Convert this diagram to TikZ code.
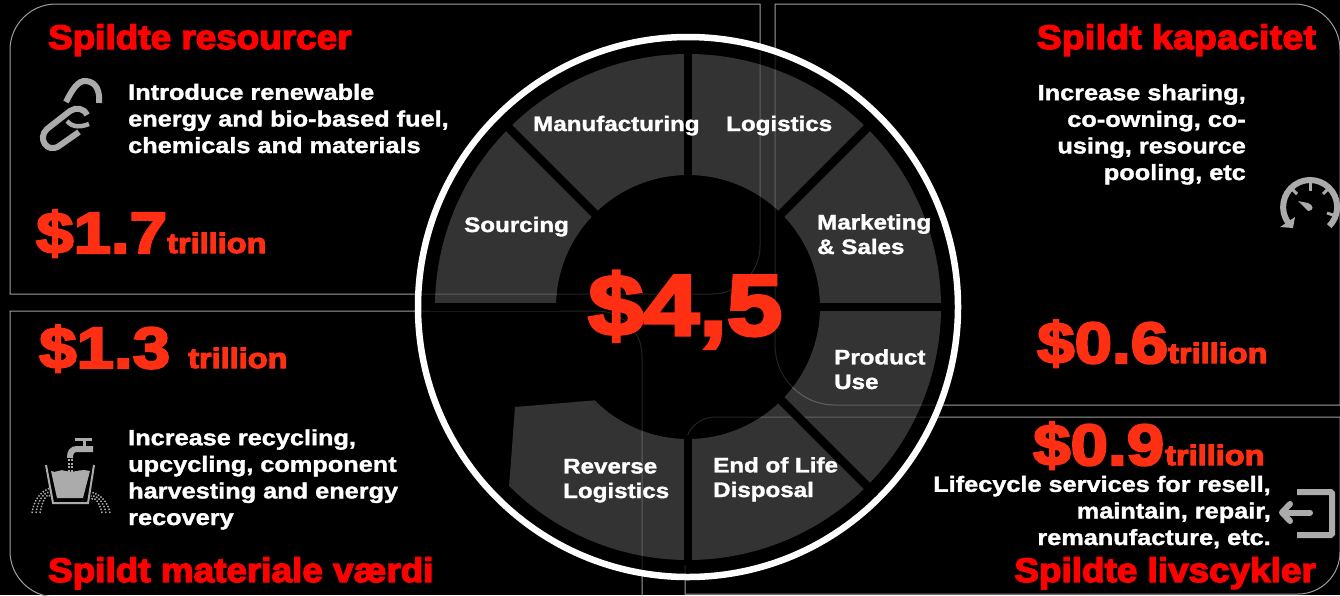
\documentclass[tikz,border=0pt]{standalone}
\usepackage{fontspec}
\newfontfamily\headfont[BoldFont=*,FakeStretch=1.085,FakeBold=4]{Liberation Sans Bold}
\newfontfamily\heavyfont[BoldFont=*,FakeStretch=1.16,FakeBold=4]{Liberation Sans Bold}
\newfontfamily\plainfont[BoldFont=*,FakeStretch=1.15,FakeBold=1.5]{Liberation Sans Bold}
\definecolor{headred}{HTML}{FF0000}
\definecolor{numred}{HTML}{FF2F14}
\definecolor{segfill}{HTML}{333333}
\definecolor{icongray}{HTML}{ABABAB}

% frame lines of the four panels
\newcommand{\panellines}{
    \draw (10,294) -- (10,50) arc[start angle=180, end angle=270, radius=46] -- (760,4) -- (760,246) arc[start angle=0, end angle=90, radius=48] -- cycle;
    \draw (775,4) -- (1294,4) arc[start angle=270, end angle=360, radius=46] -- (1340,405) -- (835,405) arc[start angle=90, end angle=180, radius=60] -- cycle;
    \draw (10,311) -- (597,311) arc[start angle=270, end angle=360, radius=45] -- (642,597) -- (56,597) arc[start angle=90, end angle=180, radius=46] -- cycle;
    \draw (685,594) -- (685,447) arc[start angle=180, end angle=270, radius=30] -- (1340,417) -- (1340,552) arc[start angle=0, end angle=90, radius=42] -- cycle;
}
% one ring piece of the wheel
\newcommand{\ringpiece}[2]{(#1:132) arc[start angle=#1, end angle=#2, radius=132] -- (#2:253) arc[start angle=#2, end angle=#1, radius=253] -- cycle}

\tikzset{
    wheel/.style={shift={(688,307)}, yscale=-1},
    headtext/.style={font=\headfont\fontsize{34}{34}\selectfont, text=headred, inner sep=0pt},
    bignum/.style={font=\heavyfont\fontsize{58}{58}\selectfont, text=numred, inner sep=0pt, anchor=base west},
    trill/.style={font=\heavyfont\fontsize{28}{28}\selectfont, text=numred, inner sep=0pt, anchor=base west},
    bodytext/.style={font=\plainfont\fontsize{22}{26.6}\selectfont, text=white, inner sep=0pt},
    segtext/.style={font=\plainfont\fontsize{21}{24.6}\selectfont, text=white, inner sep=0pt, anchor=base west, align=left},
    iconline/.style={draw=icongray, line width=6pt}
}

\begin{document}
\begin{tikzpicture}[x=1pt, y=-1pt]
    \useasboundingbox (0,0) rectangle (1340,595);
    \fill[black] (0,0) rectangle (1340,595);

    % Panels
    \begin{scope}[draw=gray!75, line width=1pt]
        \panellines
    \end{scope}

    % Wheel disc and ring
    \draw[wheel, fill=black, draw=white, line width=6.5pt] (0,0) circle[radius=270];
    \begin{scope}
        \clip[wheel] (0,0) circle[radius=266];
        \begin{scope}[draw=white!14!black, line width=1pt]
            \panellines
        \end{scope}
    \end{scope}

    % Ring pieces, the panel lines show through them
    \foreach \a/\b in {0/45, 45/90, 90/135, 135/180, 270/315, 315/360} {
        \begin{scope}
            \clip[wheel] \ringpiece{\a}{\b};
            \fill[segfill] (0,0) rectangle (1340,595);
            \begin{scope}[draw=white!38!black, line width=1pt]
                \panellines
            \end{scope}
        \end{scope}
    }
    % Reverse Logistics piece is cut off on its left
    \begin{scope}
        \clip[wheel] (225:132) -- (-173,-100) -- (225:253) arc[start angle=225, end angle=270, radius=253] -- (270:132) arc[start angle=270, end angle=225, radius=132] -- cycle;
        \fill[segfill] (0,0) rectangle (1340,595);
        \begin{scope}[draw=white!38!black, line width=1pt]
            \panellines
        \end{scope}
    \end{scope}

    % Gaps between the pieces
    \foreach \a in {0, 45, 90, 135, 180, 270, 315} {
        \draw[wheel, black, line width=8.5pt] (\a:128) -- (\a:258);
    }

    % Labels on the wheel
    \foreach \nm/\x/\y/\txt in {sourcing/464/232/Sourcing,
                                manuf/533/131/Manufacturing,
                                logist/726/131/Logistics,
                                market/817/254/{Marketing\\\& Sales},
                                product/834/389/{Product\\Use},
                                endlife/713/497/{End of Life\\Disposal},
                                reverse/563/498/{Reverse\\Logistics}} {
        \node[segtext] (\nm) at (\x,\y) {\txt};
    }
    \node[font=\heavyfont\fontsize{86}{86}\selectfont, text=numred, inner sep=0pt, anchor=base west] (total) at (588,335) {\$4,5};

    % Panel titles
    \node[headtext, anchor=base west] (titletl) at (48,49) {Spildte resourcer};
    \node[headtext, anchor=base east] (titletr) at (1316,49) {\addfontfeatures{LetterSpace=1.3}Spildt kapacitet};
    \node[headtext, anchor=base west] (titlebl) at (48,582) {Spildt materiale værdi};
    \node[headtext, anchor=base east] (titlebr) at (1316,582) {Spildte livscykler};

    % Amounts
    \foreach \nm/\x/\y/\amt/\tx in {tl/36/253/1.7/167, bl/39/368/1.3/188, tr/1037/363/0.6/1168, br/1033/465/0.9/1165} {
        \node[bignum] (num\nm) at (\x,\y) {\$\amt};
        \node[trill] (tril\nm) at (\tx,\y) {trillion};
    }

    % Panel texts
    \node[bodytext, anchor=base west, align=left] (texttl) at (128,153) {Introduce renewable\\energy and bio-based fuel,\\chemicals and materials};
    \node[bodytext, anchor=base east, align=right] (texttr) at (1246,180) {Increase sharing,\\co-owning, co-\\using, resource\\pooling, etc};
    \node[bodytext, anchor=base west, align=left] (textbl) at (128,525) {Increase recycling,\\upcycling, component\\harvesting and energy\\recovery};
    \node[bodytext, anchor=base east, align=right] (textbr) at (1271,545) {Lifecycle services for resell,\\maintain, repair,\\remanufacture, etc.};

    % Chain icon
    \draw[iconline] (66,102) .. controls (72,90) and (78,80) .. (86,81) .. controls (97,82) and (100,92) .. (99,103);
    \draw[iconline] (87,115) .. controls (84,108) and (76,107) .. (70,111) -- (47,129) .. controls (37,138) and (47,154) .. (59,146) -- (79,132);
    \draw[iconline, line width=4.5pt] (67,121) .. controls (73,128) and (81,127) .. (89,124);

    % Gauge icon
    \draw[iconline] (1288,222.5) arc[start angle=145, end angle=405, radius=27];
    \fill[icongray] (1280,227) -- (1295,217) -- (1293,228) -- cycle;
    \draw[iconline, line width=3pt] (1310,180) -- (1310,191);
    \draw[iconline, line width=3pt] (1329,188) -- (1323,194);
    \draw[iconline, line width=3pt] (1291,188) -- (1297,194);
    \draw[iconline, line width=3pt] (1336,216) -- (1327,213);
    \fill[icongray] (1298,201) -- (1308,203) .. controls (1314,205) and (1314,211) .. (1308,211) -- cycle;

    % Tap and basin icon
    \draw[iconline, line width=3pt] (75,439.5) -- (92,439.5);
    \draw[iconline, line width=3pt] (84,440) -- (84,446);
    \draw[iconline, line width=6pt] (93,449) -- (77,449) .. controls (72,449) and (70,452) .. (70,458);
    \draw[icongray, line width=2pt, dash pattern=on 2pt off 1.5pt] (69,459) -- (69,480);
    \draw[icongray, line width=2pt, dash pattern=on 2pt off 1.5pt] (72,459) -- (72,481);
    \draw[iconline, line width=2pt] (46,465) -- (53,503) -- (88,503) -- (94,465);
    \fill[icongray] (51,471) .. controls (56,474) and (60,468) .. (66,471) .. controls (72,474) and (80,468) .. (90,471) -- (83,498) -- (57,498) -- cycle;
    \foreach \s in {0, 4, 8} {
        \draw[icongray, line width=1.5pt, dash pattern=on 1.5pt off 1.5pt] (32+\s,513) .. controls (34+\s,500) and (40+\s,492) .. (50,488+\s);
        \draw[icongray, line width=1.5pt, dash pattern=on 1.5pt off 1.5pt] (110-\s,513) .. controls (108-\s,503) and (102-\s,495) .. (91,492+\s);
    }

    % Exit icon
    \draw[iconline, rounded corners=1.5pt] (1297,492) -- (1332,492) -- (1332,535) -- (1297,535);
    \draw[iconline, line cap=round] (1310,512.5) -- (1284,512.5);
    \draw[iconline, line cap=round, line join=round] (1290,504) -- (1282,512.5) -- (1290,521);
\end{tikzpicture}
\end{document}
